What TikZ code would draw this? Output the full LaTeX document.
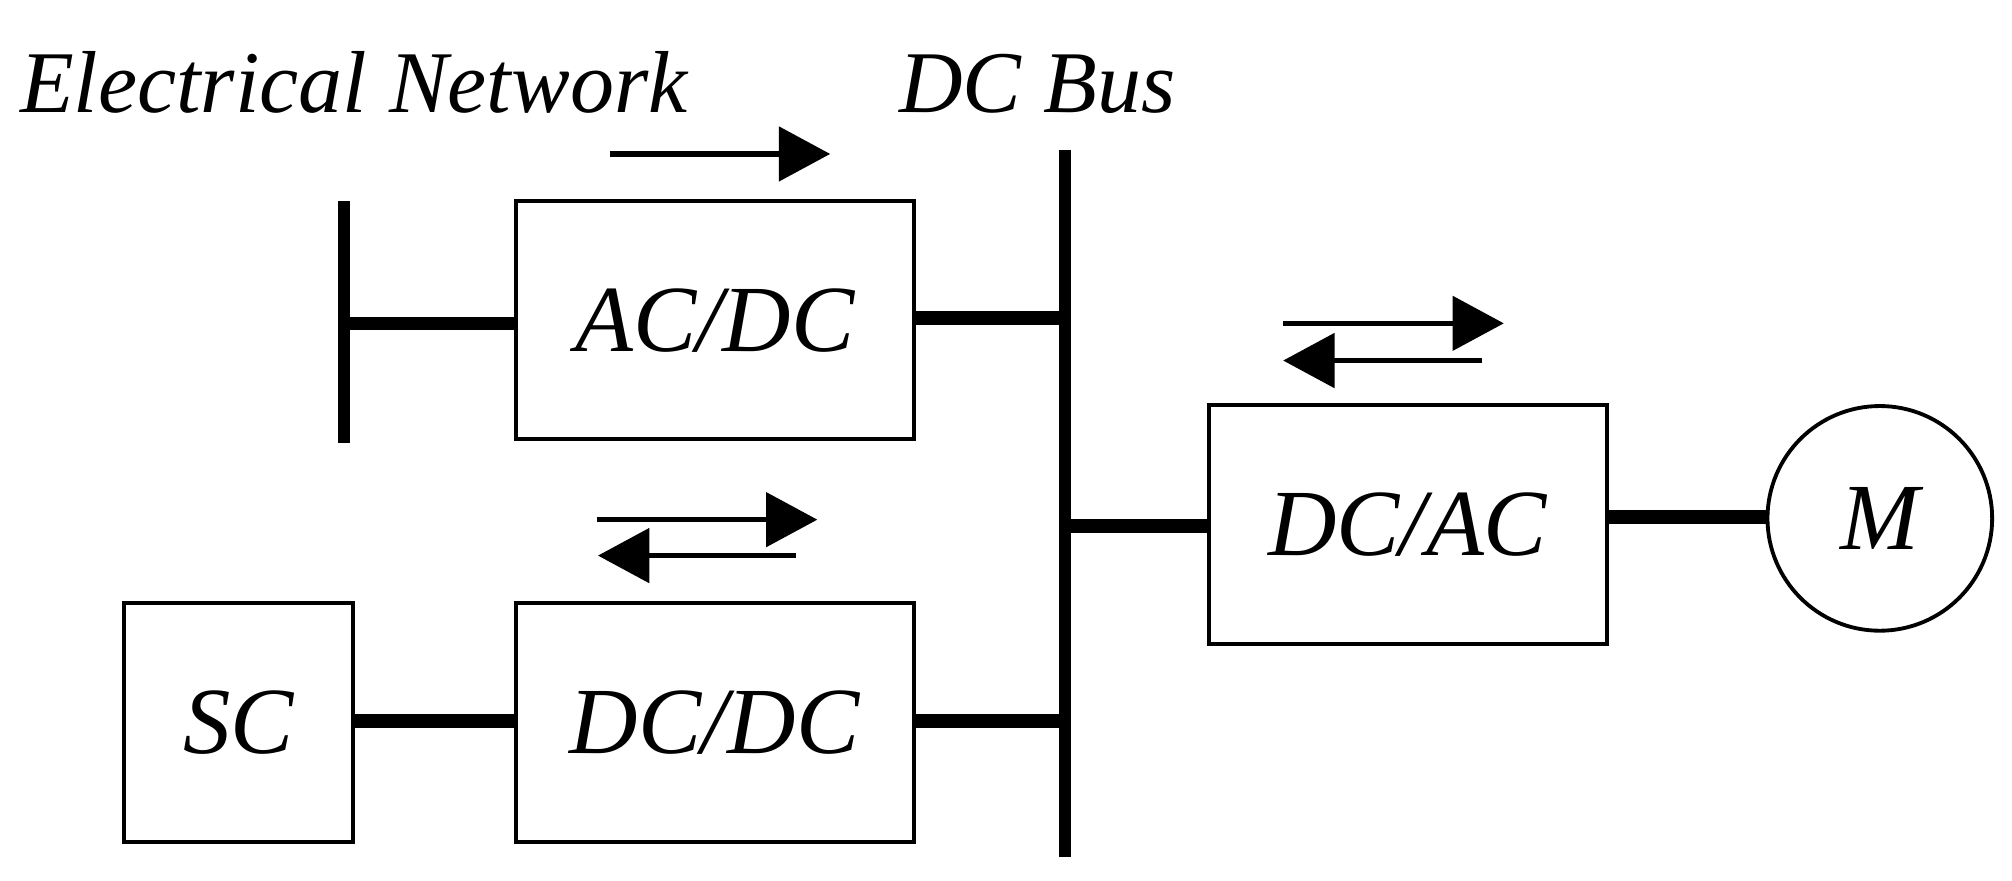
\documentclass[tikz,border=0pt]{standalone}
\usepackage{fontspec}
\setmainfont{Liberation Serif}
\usetikzlibrary{arrows.meta}
\begin{document}
\begin{tikzpicture}[x=0.01cm,y=-0.01cm,
  box/.style={draw,line width=0.85pt,inner sep=0pt,font=\itshape\fontsize{21}{24}\selectfont},
  conn/.style={line width=3pt},
  flow/.style={line width=1.2pt,-{Triangle[length=0.4cm,width=0.42cm]}},
  lbl/.style={font=\itshape\fontsize{19.5}{22}\selectfont,inner sep=0pt,anchor=base west}]
\useasboundingbox (0,0) rectangle (1568,686);
\node[lbl] (en) at (15,88) {Electrical Network};
\node[lbl] (dcb) at (700,88) {DC Bus};
\node[box,minimum width=3.1cm,minimum height=1.85cm] (acdc) at (557,249.5) {AC/DC};
\node[box,minimum width=3.1cm,minimum height=1.86cm] (dcdc) at (557,563) {DC/DC};
\node[box,minimum width=1.78cm,minimum height=1.86cm] (sc) at (186,563) {SC};
\node[box,minimum width=3.1cm,minimum height=1.86cm] (dcac) at (1097,409) {DC/AC};
\node[draw,circle,line width=0.85pt,minimum size=1.75cm,inner sep=0pt,font=\itshape\fontsize{21}{24}\selectfont] (m) at (1465,404) {M};
\coordinate (bt) at (830,117); \coordinate (bb) at (830,668);
\draw[line width=2.5pt] (bt) -- (bb);
\coordinate (nt) at (268,157); \coordinate (nb) at (268,345);
\draw[line width=2.5pt] (nt) -- (nb);
\draw[conn] (acdc.west |- 0,252) -- (nt |- 0,252);
\draw[conn] (acdc.east |- 0,248) -- (bt |- 0,248);
\draw[conn] (dcdc.east |- 0,562) -- (bt |- 0,562);
\draw[conn] (sc.east |- 0,562) -- (dcdc.west |- 0,562);
\draw[conn] (bt |- 0,410) -- (dcac.west |- 0,410);
\draw[conn] (dcac.east |- 0,403) -- (m.west |- 0,403);
\coordinate (a1) at (475,120); \coordinate (a2) at (647,120);
\draw[flow] (a1) -- (a2);
\coordinate (b1) at (1000,252); \coordinate (b2) at (1172,252);
\draw[flow] (b1) -- (b2);
\coordinate (b3) at (1155,281); \coordinate (b4) at (1000,281);
\draw[flow] (b3) -- (b4);
\coordinate (c1) at (465,405); \coordinate (c2) at (637,405);
\draw[flow] (c1) -- (c2);
\coordinate (c3) at (620,433); \coordinate (c4) at (466,433);
\draw[flow] (c3) -- (c4);
\end{tikzpicture}
\end{document}
